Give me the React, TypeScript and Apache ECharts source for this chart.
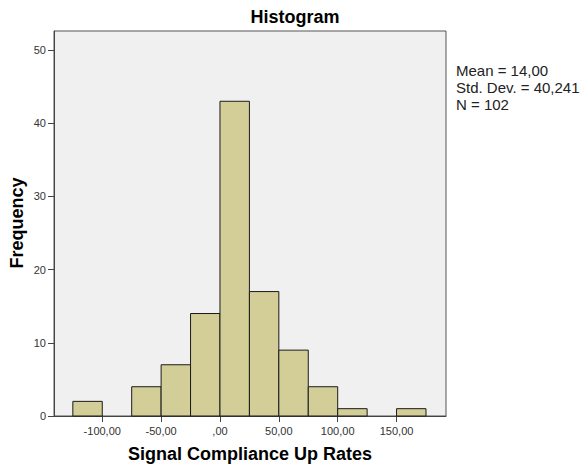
import React, { useEffect, useRef } from "react";
import * as echarts from "echarts";

const binStarts = [-125, -100, -75, -50, -25, 0, 25, 50, 75, 100, 125, 150];
const binWidth = 25;
const counts = [2, 0, 4, 7, 14, 43, 17, 9, 4, 1, 0, 1];
const xTicks = [-100, -50, 0, 50, 100, 150];
const yTicks = [0, 10, 20, 30, 40, 50];
const statsLines = ["Mean = 14,00", "Std. Dev. = 40,241", "N = 102"];
const chartTitle = "Histogram";
const xName = "Signal Compliance Up Rates";
const yName = "Frequency";

const FONT = "'Liberation Sans', Arial, sans-serif";

function fmtX(v: number): string {
  if (v === 0) return ",00";
  return v.toFixed(2).replace(".", ",");
}

export default function App() {
  const ref = useRef<HTMLDivElement>(null);
  useEffect(() => {
    if (!ref.current) return;
    const chart = echarts.init(ref.current, undefined, { renderer: "svg" });
    const barData = binStarts
      .map((s, i) => [s, s + binWidth, counts[i]])
      .filter((d) => d[2] > 0);
    chart.setOption({
      animation: false,
      backgroundColor: "#ffffff",
      textStyle: { fontFamily: FONT },
      grid: {
        left: 54,
        right: 138,
        top: 31,
        bottom: 49,
        containLabel: false,
        outerBoundsMode: "none",
        show: true,
        backgroundColor: "#f0f0f0",
        borderColor: "#555555",
        borderWidth: 1,
      },
      xAxis: {
        type: "value",
        min: -141,
        max: 192,
        splitLine: { show: false },
        axisLine: { show: true, onZero: false, lineStyle: { color: "#444", width: 1 } },
        axisTick: { show: true, customValues: xTicks, length: 6, lineStyle: { color: "#444" } },
        axisLabel: {
          customValues: xTicks,
          formatter: (v: number) => fmtX(v),
          fontSize: 11,
          color: "#333",
          margin: 9,
          fontFamily: FONT,
        },
      },
      yAxis: {
        type: "value",
        min: 0,
        max: 52.6,
        splitLine: { show: false },
        axisLine: { show: true, onZero: false, lineStyle: { color: "#444", width: 1 } },
        axisTick: { show: true, customValues: yTicks, length: 6, lineStyle: { color: "#444" } },
        axisLabel: {
          customValues: yTicks,
          fontSize: 11,
          color: "#333",
          margin: 8,
          fontFamily: FONT,
        },
      },
      graphic: [
        {
          type: "text",
          x: 295,
          y: 17,
          style: {
            text: chartTitle,
            font: `bold 18px ${FONT}`,
            fill: "#000",
            textAlign: "center",
            textVerticalAlign: "middle",
          },
        },
        {
          type: "text",
          x: 250,
          y: 454,
          style: {
            text: xName,
            font: `bold 18px ${FONT}`,
            fill: "#000",
            textAlign: "center",
            textVerticalAlign: "middle",
          },
        },
        {
          type: "text",
          x: 17,
          y: 223,
          rotation: Math.PI / 2,
          style: {
            text: yName,
            font: `bold 18px ${FONT}`,
            fill: "#000",
            textAlign: "center",
            textVerticalAlign: "middle",
          },
        },
        ...statsLines.map((t, i) => ({
          type: "text",
          x: 456,
          y: 70 + i * 17,
          style: {
            text: t,
            font: `15px ${FONT}`,
            fill: "#222",
            textAlign: "left",
            textVerticalAlign: "middle",
          },
        })),
      ],
      series: [
        {
          type: "custom",
          data: barData,
          encode: { x: [0, 1], y: 2 },
          renderItem: (params: any, api: any) => {
            const x0 = api.value(0);
            const x1 = api.value(1);
            const c = api.value(2);
            const p0 = api.coord([x0, c]);
            const p1 = api.coord([x1, 0]);
            return {
              type: "rect",
              shape: { x: p0[0], y: p0[1], width: p1[0] - p0[0], height: p1[1] - p0[1] },
              style: { fill: "#d3ce98", stroke: "#1a1a1a", lineWidth: 1 },
            };
          },
        },
      ],
    });
    return () => chart.dispose();
  }, []);
  return (
    <div
      ref={ref}
      style={{ position: "absolute", left: 0, top: 0, width: 584, height: 465 }}
    />
  );
}
